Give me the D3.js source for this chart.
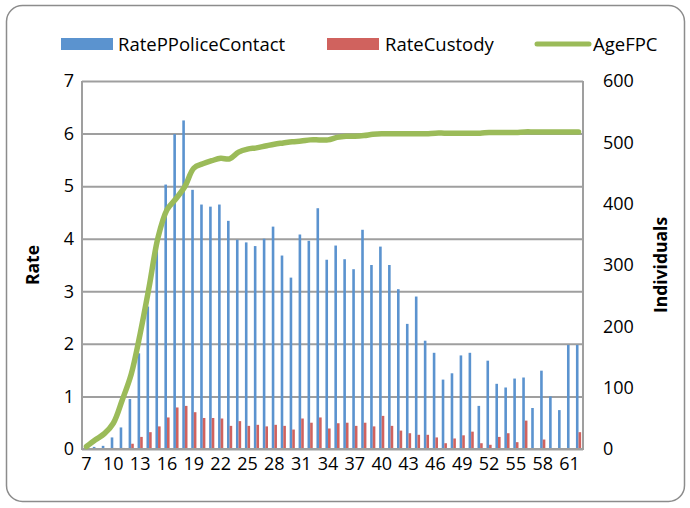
<!DOCTYPE html>
<html><head><meta charset="utf-8">
<script src="https://cdn.jsdelivr.net/npm/d3@7"></script>
<style>
html,body{margin:0;padding:0;background:#fff;}
svg text{font-family:"Open Sans",sans-serif;fill:#000;}
</style></head>
<body><svg id="c" width="690" height="508"></svg>
<script>
const ages = d3.range(7, 63);
const ratePoliceContact = [0.03,0.04,0.06,0.22,0.41,0.95,1.82,2.71,4.0,5.03,5.99,6.25,4.93,4.65,4.61,4.65,4.34,3.98,3.93,3.86,4.0,4.23,3.68,3.26,4.08,3.96,4.58,3.60,3.87,3.61,3.42,4.17,3.50,3.85,3.50,3.04,2.38,2.90,2.06,1.83,1.32,1.44,1.78,1.83,0.82,1.68,1.24,1.17,1.34,1.36,0.78,1.49,1.0,0.74,1.98,1.98];
const rateCustody = [0,0,0.01,0.02,0.02,0.1,0.23,0.32,0.43,0.6,0.79,0.82,0.70,0.59,0.59,0.58,0.44,0.53,0.44,0.46,0.43,0.46,0.44,0.37,0.58,0.50,0.60,0.39,0.49,0.50,0.44,0.50,0.43,0.63,0.44,0.35,0.30,0.27,0.27,0.22,0.11,0.20,0.26,0.33,0.11,0.08,0.23,0.30,0.13,0.54,0,0.18,0,0,0,0.32];
const ageFPC = [4,15,25,42,80,122,188,264,345,390,408,428,458,465,470,474,473,484,489,491,494,497,499,501,502,504,504,504,508,510,510,511,513,514,514,514,514,514,514,515,515,515,515,515,515,516,516,516,516,517,517,517,517,517,517,517];
const leftTicks = [0,1,2,3,4,5,6,7];
const rightTicks = [0,100,200,300,400,500,600];
const xLabels = ages.filter(a => (a - 7) % 3 === 0);

const svg = d3.select("#c");
const L = 82, R = 583, T = 81, B = 449;
const blue = "#5b93cf", red = "#d0625e", green = "#9bbb59", grid = "#9f9f9f";

svg.append("rect").attr("x",6.5).attr("y",5.5).attr("width",678).attr("height",496)
  .attr("rx",16).attr("fill","#fff").attr("stroke","#8c8c8c").attr("stroke-width",1.5);

const x = d3.scaleBand().domain(ages).range([L, R]).paddingInner(0).paddingOuter(0);
const yL = d3.scaleLinear().domain([0,7]).range([B, T]);
const yR = d3.scaleLinear().domain([0,600]).range([B, T]);
const bw = 2.6;

svg.append("g").attr("transform",`translate(${L},0)`)
  .call(d3.axisLeft(yL).tickValues(leftTicks).tickSize(-(R-L)).tickFormat(""))
  .call(g => g.select(".domain").remove())
  .call(g => g.selectAll("line").attr("stroke",grid).attr("stroke-width",2));

svg.append("g").selectAll("rect").data(ages).join("rect")
  .attr("x", a => x(a) + x.bandwidth()/2 - bw)
  .attr("width", bw)
  .attr("y", (a,i) => yL(ratePoliceContact[i]))
  .attr("height", (a,i) => B - yL(ratePoliceContact[i]))
  .attr("fill", blue);
svg.append("g").selectAll("rect").data(ages).join("rect")
  .attr("x", a => x(a) + x.bandwidth()/2)
  .attr("width", bw)
  .attr("y", (a,i) => yL(rateCustody[i]))
  .attr("height", (a,i) => B - yL(rateCustody[i]))
  .attr("fill", red);

svg.append("line").attr("x1",L).attr("x2",L).attr("y1",T).attr("y2",B).attr("stroke",grid).attr("stroke-width",2);
svg.append("line").attr("x1",R).attr("x2",R).attr("y1",T).attr("y2",B).attr("stroke",grid).attr("stroke-width",2);
svg.append("line").attr("x1",L-1).attr("x2",R+1).attr("y1",B).attr("y2",B).attr("stroke",grid).attr("stroke-width",2);

const line = d3.line()
  .x((d,i) => x(ages[i]) + x.bandwidth()/2)
  .y(d => yR(d))
  .curve(d3.curveCatmullRom.alpha(0.5));
svg.append("path").datum(ageFPC).attr("d", line)
  .attr("fill","none").attr("stroke",green).attr("stroke-width",5.5)
  .attr("stroke-linecap","round").attr("stroke-linejoin","round");

const fs = 18;
svg.append("g").attr("transform",`translate(${L-8},0)`)
  .call(d3.axisLeft(yL).tickValues(leftTicks).tickSize(0).tickPadding(0).tickFormat(d3.format("d")))
  .call(g => g.select(".domain").remove())
  .call(g => g.selectAll("text").attr("font-size",fs).attr("font-family","Open Sans").attr("fill","#000"));
svg.append("g").attr("transform",`translate(${R+20},0)`)
  .call(d3.axisRight(yR).tickValues(rightTicks).tickSize(0).tickPadding(0).tickFormat(d3.format("d")))
  .call(g => g.select(".domain").remove())
  .call(g => g.selectAll("text").attr("font-size",fs).attr("font-family","Open Sans").attr("fill","#000"));
svg.append("g").attr("transform",`translate(0,${B+8})`)
  .call(d3.axisBottom(x).tickValues(xLabels).tickSize(0).tickPadding(0))
  .call(g => g.select(".domain").remove())
  .call(g => g.selectAll("text").attr("font-size",fs).attr("font-family","Open Sans").attr("fill","#000"));

svg.append("text").attr("transform",`translate(39,${(T+B)/2}) rotate(-90)`)
  .attr("text-anchor","middle").attr("font-size",17.5).attr("font-weight","bold").text("Rate");
svg.append("text").attr("transform",`translate(667,${(T+B)/2}) rotate(-90)`)
  .attr("text-anchor","middle").attr("font-size",17.5).attr("font-weight","bold").text("Individuals");

const lg = svg.append("g").attr("font-size",18.5);
lg.append("rect").attr("x",61).attr("y",38).attr("width",52).attr("height",12).attr("fill",blue);
lg.append("text").attr("x",118).attr("y",51).text("RatePPoliceContact");
lg.append("rect").attr("x",327).attr("y",38).attr("width",52).attr("height",12).attr("fill",red);
lg.append("text").attr("x",385).attr("y",51).text("RateCustody");
lg.append("line").attr("x1",537).attr("x2",589).attr("y1",44).attr("y2",44)
  .attr("stroke",green).attr("stroke-width",5).attr("stroke-linecap","round");
lg.append("text").attr("x",593).attr("y",51).text("AgeFPC");
</script></body></html>
